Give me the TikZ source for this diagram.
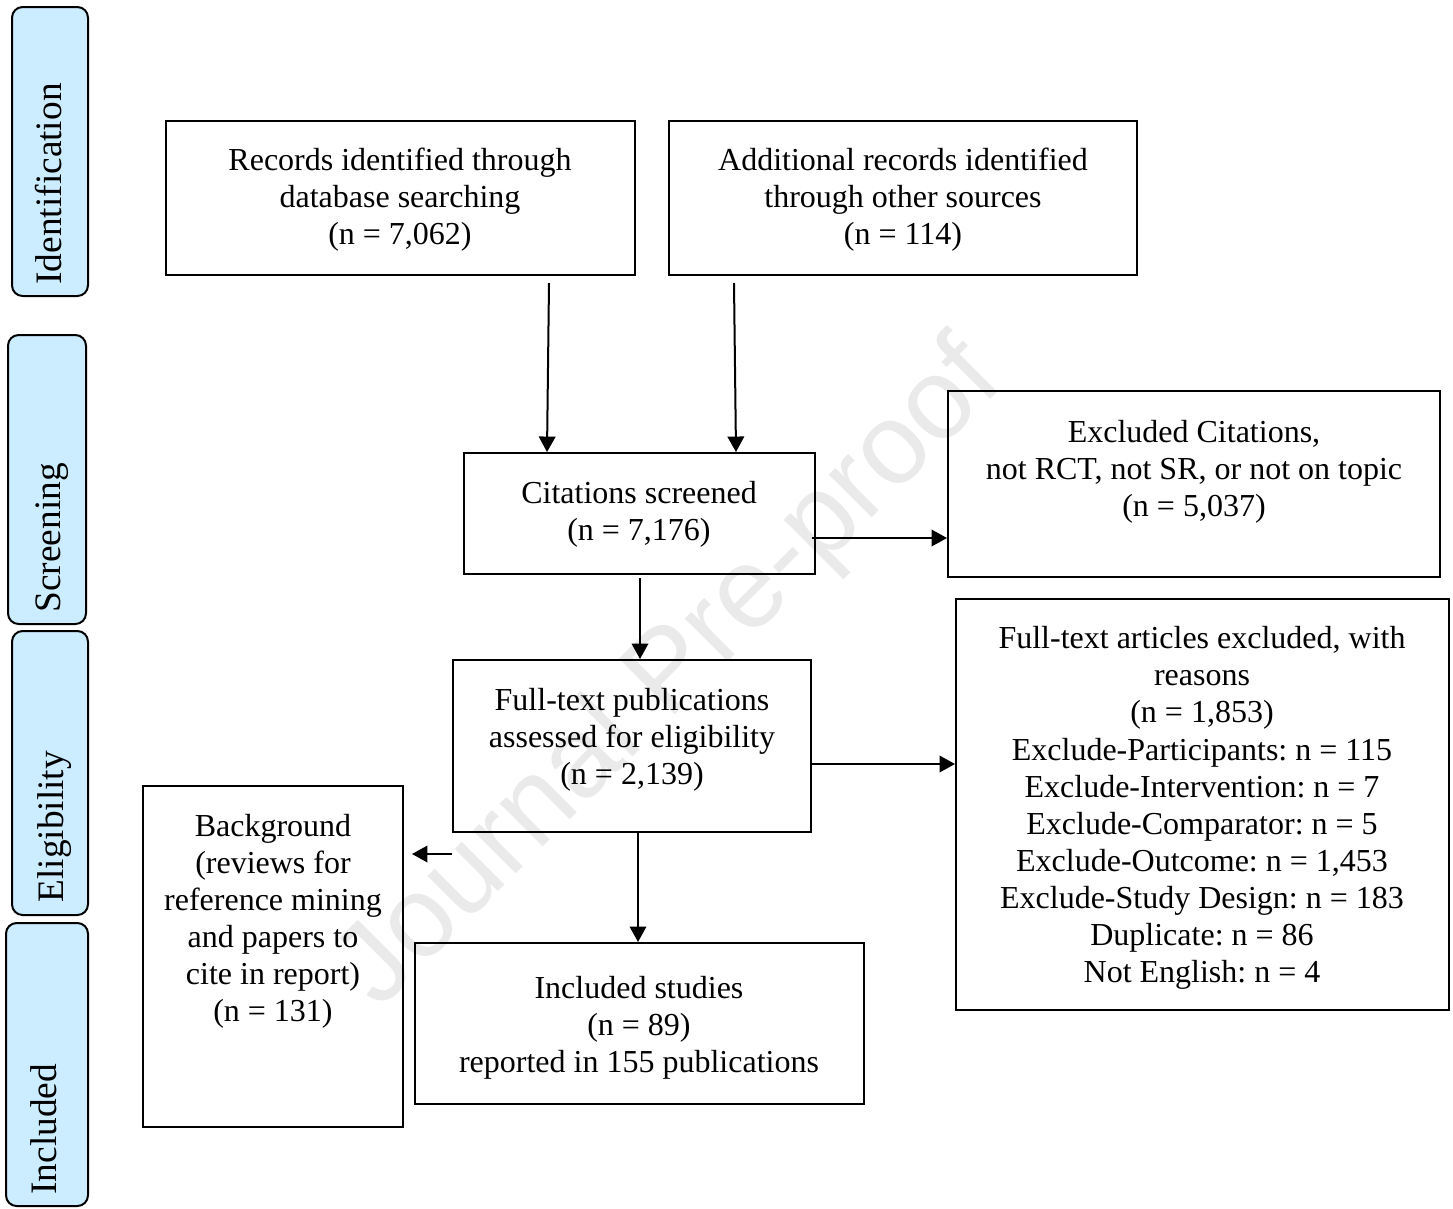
\documentclass[tikz,border=0pt]{standalone}
\usepackage{fontspec}
\setmainfont{Liberation Serif}
\newfontfamily\wmfont{Liberation Sans}
\usetikzlibrary{arrows.meta,fit}
\definecolor{stagefill}{RGB}{204,236,255}
\definecolor{wmgray}{RGB}{234,234,234}
\frenchspacing
\begin{document}
\begin{tikzpicture}[x=0.375pt,y=-0.375pt,
  box/.style={draw, line width=0.75pt, inner sep=0pt},
  txt/.style={align=center, inner sep=0pt, font=\fontsize{12}{13.9}\selectfont},
  stagebox/.style={draw, line width=0.75pt, fill=stagefill, rounded corners=4pt, inner sep=0pt},
  stagetxt/.style={rotate=90, anchor=base west, inner sep=0pt, font=\fontsize{14}{16}\selectfont},
  arr/.style={line width=0.75pt, -{Triangle[length=5.8pt,width=6.2pt]}}]
\useasboundingbox (0,0) rectangle (1453,1208);

% watermark
\node[rotate=45, text=wmgray, inner sep=0pt, font=\wmfont\fontsize{43}{43}\selectfont] (wm) at (672,676) {Journal Pre-proof};

% stage boxes
\node[stagebox, fit={(12,7) (88,296)}] (sid) {};
\node[stagebox, fit={(8,335) (86,624)}] (ssc) {};
\node[stagebox, fit={(12,631) (88,915)}] (sel) {};
\node[stagebox, fit={(6,923) (88,1206)}] (sin) {};
\node[stagetxt] (tid) at (62,285) {Identification};
\node[stagetxt] (tsc) at (60,613) {Screening};
\node[stagetxt] (tel) at (63,903) {Eligibility};
\node[stagetxt] (tin) at (57,1195) {Included};

% main boxes
\node[box, fit={(166,121) (635,275)}] (rec) {};
\node[box, fit={(669,121) (1137,275)}] (add) {};
\node[box, fit={(464,453) (815,574)}] (cit) {};
\node[box, fit={(948,391) (1440,577)}] (exc) {};
\node[box, fit={(453,660) (811,832)}] (ft) {};
\node[box, fit={(956,599) (1449,1010)}] (ftx) {};
\node[box, fit={(143,786) (403,1127)}] (bg) {};
\node[box, fit={(415,943) (864,1104)}] (inc) {};

% texts
\node[txt] (trec) at (400,200) {Records identified through\\database searching\\(n = 7,062)};
\node[txt] (tadd) at (903,200) {Additional records identified\\through other sources\\(n = 114)};
\node[txt] (tcit) at (639,514) {Citations screened\\(n = 7,176)};
\node[txt] (texc) at (1194,472) {Excluded Citations,\\not RCT, not SR, or not on topic\\(n = 5,037)};
\node[txt] (tft) at (632,740) {Full-text publications\\assessed for eligibility\\(n = 2,139)};
\node[txt] (tftx) at (1202,808) {Full-text articles excluded, with\\reasons\\(n = 1,853)\\Exclude-Participants: n = 115\\Exclude-Intervention: n = 7\\Exclude-Comparator: n = 5\\Exclude-Outcome: n = 1,453\\Exclude-Study Design: n = 183\\Duplicate: n = 86\\Not English: n = 4};
\node[txt] (tbg) at (273,921) {Background\\(reviews for\\reference mining\\and papers to\\cite in report)\\(n = 131)};
\node[txt] (tinc) at (639,1028) {Included studies\\(n = 89)\\reported in 155 publications};

% connectors
\coordinate (s1) at (549,283);
\coordinate (s2) at (734,283);
\coordinate (s3) at (812,538);
\coordinate (s4) at (640,578);
\coordinate (s5) at (412,854);
\coordinate (s6) at (638,832);
\coordinate (s7) at (812,764);
\draw[arr] (s1) -- (547,0 |- cit.north);
\draw[arr] (s2) -- (736,0 |- cit.north);
\draw[arr] (s3) -- (exc.west |- s3);
\draw[arr] (s4) -- (s4 |- ft.north);
\draw[arr] (ft.west |- s5) -- (s5);
\draw[arr] (s6) -- (s6 |- inc.north);
\draw[arr] (s7) -- (ftx.west |- s7);
\end{tikzpicture}
\end{document}
